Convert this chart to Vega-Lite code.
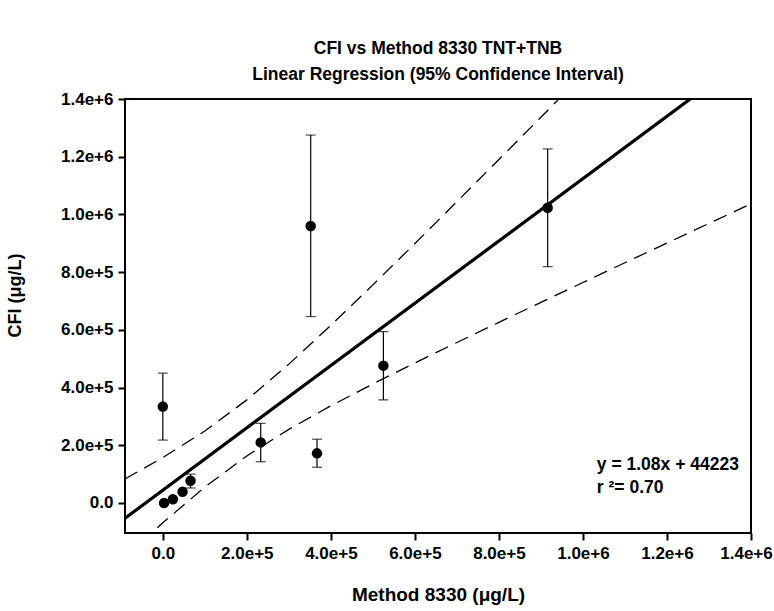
{
  "$schema": "https://vega.github.io/schema/vega-lite/v6.json",
  "width": 626,
  "height": 434,
  "autosize": "none",
  "padding": {"left": 125, "top": 99, "right": 23, "bottom": 78},
  "background": "white",
  "config": {
    "view": {"stroke": "black", "strokeWidth": 2},
    "font": "Liberation Sans",
    "axis": {
      "domain": false,
      "grid": false,
      "ticks": true,
      "tickSize": 7,
      "tickWidth": 2,
      "tickColor": "black",
      "labelFont": "Liberation Sans",
      "labelFontWeight": "bold",
      "labelFontSize": 17,
      "labelColor": "black",
      "labelPadding": 5,
      "labelFlush": false,
      "labelOverlap": false,
      "titleFont": "Liberation Sans",
      "titleFontWeight": "bold",
      "titleFontSize": 18,
      "titleColor": "black"
    }
  },
  "title": {
    "text": ["CFI vs Method 8330 TNT+TNB", "Linear Regression (95% Confidence Interval)"],
    "font": "Liberation Sans",
    "fontSize": 17.5,
    "fontWeight": "bold",
    "color": "black",
    "anchor": "middle",
    "lineHeight": 26,
    "offset": 7
  },
  "datasets": {
    "pts": [
      {"x": 3000, "y": 0},
      {"x": 24000, "y": 13000},
      {"x": 47000, "y": 39000},
      {"x": 66000, "y": 77000, "lo": 52000, "hi": 100000},
      {"x": 0, "y": 334000, "lo": 218000, "hi": 450000},
      {"x": 233000, "y": 210000, "lo": 143000, "hi": 276000},
      {"x": 352000, "y": 960000, "lo": 646000, "hi": 1275000},
      {"x": 367000, "y": 172000, "lo": 124000, "hi": 221000},
      {"x": 525000, "y": 476000, "lo": 357000, "hi": 594000},
      {"x": 916000, "y": 1023000, "lo": 819000, "hi": 1227000}
    ],
    "band": [
      {"x": -90000, "upper": 83500, "lower": -189500},
      {"x": 0, "upper": 157200, "lower": -68700},
      {"x": 100000, "upper": 249300, "lower": 55100},
      {"x": 200000, "upper": 357300, "lower": 163100},
      {"x": 300000, "upper": 481200, "lower": 255200},
      {"x": 400000, "upper": 615600, "lower": 336800},
      {"x": 500000, "upper": 755800, "lower": 412600},
      {"x": 600000, "upper": 899100, "lower": 485300},
      {"x": 700000, "upper": 1044200, "lower": 556200},
      {"x": 800000, "upper": 1190300, "lower": 626200},
      {"x": 900000, "upper": 1337000, "lower": 695400},
      {"x": 1000000, "upper": 1484300, "lower": 764100},
      {"x": 1100000, "upper": 1631800, "lower": 832600},
      {"x": 1200000, "upper": 1779600, "lower": 900800},
      {"x": 1300000, "upper": 1927600, "lower": 968800},
      {"x": 1400000, "upper": 2075700, "lower": 1036700}
    ],
    "fit": [
      {"x": -90000, "y": -52977},
      {"x": 1400000, "y": 1556223}
    ],
    "eq": [
      {"x": 1033000, "y": 132000, "label": "y = 1.08x + 44223"},
      {"x": 1033000, "y": 52000, "label": "r ²= 0.70"}
    ]
  },
  "layer": [
    {
      "data": {"name": "band"},
      "mark": {"type": "line", "color": "black", "strokeWidth": 1.3, "strokeDash": [14, 8], "clip": true},
      "encoding": {
        "x": {
          "field": "x", "type": "quantitative",
          "scale": {"domain": [-90000, 1400000], "nice": false, "zero": false},
          "axis": {
            "title": "Method 8330 (μg/L)",
            "titleFontSize": 19,
            "values": [0, 200000, 400000, 600000, 800000, 1000000, 1200000, 1400000],
            "labelExpr": "datum.value == 0 ? '0.0' : format(datum.value, '.1e')",
            "labelOffset": {"condition": {"test": "datum.value == 1400000", "value": -5}, "value": 0},
            "titlePadding": 24
          }
        },
        "y": {
          "field": "upper", "type": "quantitative",
          "scale": {"domain": [-104000, 1400000], "nice": false, "zero": false},
          "axis": {
            "title": "CFI (μg/L)",
            "values": [0, 200000, 400000, 600000, 800000, 1000000, 1200000, 1400000],
            "labelExpr": "datum.value == 0 ? '0.0' : format(datum.value, '.1e')",
            "titlePadding": 36,
            "titleY": 196
          }
        }
      }
    },
    {
      "data": {"name": "band"},
      "mark": {"type": "line", "color": "black", "strokeWidth": 1.3, "strokeDash": [14, 8], "clip": true},
      "encoding": {
        "x": {"field": "x", "type": "quantitative", "scale": {"domain": [-90000, 1400000], "nice": false, "zero": false}},
        "y": {"field": "lower", "type": "quantitative", "scale": {"domain": [-104000, 1400000], "nice": false, "zero": false}}
      }
    },
    {
      "data": {"name": "fit"},
      "mark": {"type": "line", "color": "black", "strokeWidth": 3.2, "clip": true},
      "encoding": {
        "x": {"field": "x", "type": "quantitative", "scale": {"domain": [-90000, 1400000], "nice": false, "zero": false}},
        "y": {"field": "y", "type": "quantitative", "scale": {"domain": [-104000, 1400000], "nice": false, "zero": false}}
      }
    },
    {
      "data": {"name": "pts"},
      "transform": [{"filter": "isValid(datum.lo)"}],
      "mark": {"type": "rule", "color": "black", "strokeWidth": 1.2},
      "encoding": {
        "x": {"field": "x", "type": "quantitative", "scale": {"domain": [-90000, 1400000], "nice": false, "zero": false}},
        "y": {"field": "lo", "type": "quantitative", "scale": {"domain": [-104000, 1400000], "nice": false, "zero": false}},
        "y2": {"field": "hi"}
      }
    },
    {
      "data": {"name": "pts"},
      "transform": [{"filter": "isValid(datum.lo)"}],
      "mark": {"type": "tick", "color": "black", "orient": "horizontal", "size": 10, "thickness": 1.2},
      "encoding": {
        "x": {"field": "x", "type": "quantitative", "scale": {"domain": [-90000, 1400000], "nice": false, "zero": false}},
        "y": {"field": "lo", "type": "quantitative", "scale": {"domain": [-104000, 1400000], "nice": false, "zero": false}}
      }
    },
    {
      "data": {"name": "pts"},
      "transform": [{"filter": "isValid(datum.hi)"}],
      "mark": {"type": "tick", "color": "black", "orient": "horizontal", "size": 10, "thickness": 1.2},
      "encoding": {
        "x": {"field": "x", "type": "quantitative", "scale": {"domain": [-90000, 1400000], "nice": false, "zero": false}},
        "y": {"field": "hi", "type": "quantitative", "scale": {"domain": [-104000, 1400000], "nice": false, "zero": false}}
      }
    },
    {
      "data": {"name": "pts"},
      "mark": {"type": "circle", "color": "black", "opacity": 1, "size": 110},
      "encoding": {
        "x": {"field": "x", "type": "quantitative", "scale": {"domain": [-90000, 1400000], "nice": false, "zero": false}},
        "y": {"field": "y", "type": "quantitative", "scale": {"domain": [-104000, 1400000], "nice": false, "zero": false}}
      }
    },
    {
      "data": {"name": "eq"},
      "mark": {"type": "text", "align": "left", "baseline": "middle", "font": "Liberation Sans", "fontWeight": "bold", "fontSize": 17.5, "color": "black"},
      "encoding": {
        "x": {"field": "x", "type": "quantitative", "scale": {"domain": [-90000, 1400000], "nice": false, "zero": false}},
        "y": {"field": "y", "type": "quantitative", "scale": {"domain": [-104000, 1400000], "nice": false, "zero": false}},
        "text": {"field": "label"}
      }
    }
  ]
}
